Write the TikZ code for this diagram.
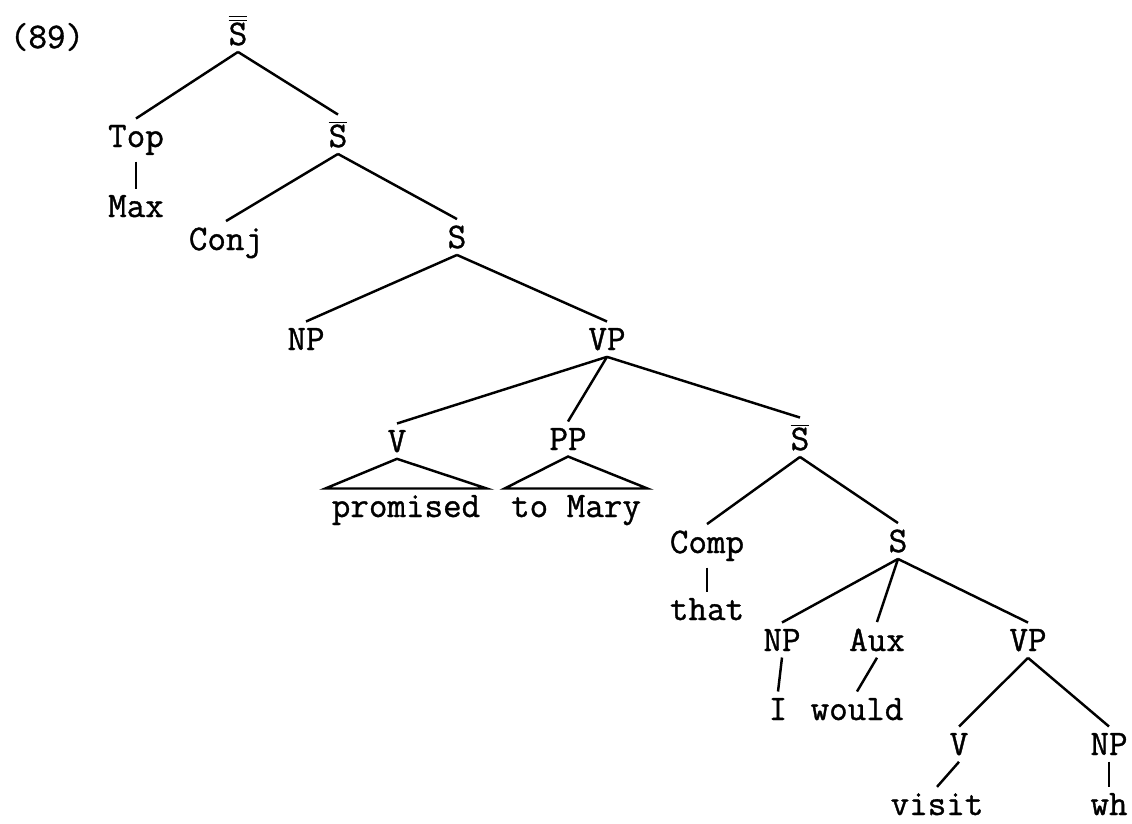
\documentclass[tikz,border=0pt]{standalone}
\usepackage{fontspec}
\setmonofont[FakeBold=1]{Latin Modern Mono}
\newcommand{\barS}{$\overline{\mbox{S}}$}
\newcommand{\dbarS}{$\overline{\overline{\mbox{S}}}$}

\begin{document}
\begin{tikzpicture}[x=0.02cm, y=-0.02cm, line width=1.4pt,
  lbl/.style={anchor=base, font=\ttfamily\fontsize{20.5}{24}\selectfont, inner sep=3pt}]
\useasboundingbox (0,0) rectangle (1132,823);

\node[lbl] (num) at (47,48) {(89)};
\node[lbl] (sbb) at (238,45) {\dbarS};
\node[lbl] (top) at (136,147) {Top};
\node[lbl] (max) at (136,217) {Max};
\node[lbl] (sb1) at (338,147) {\barS};
\node[lbl] (conj) at (226,250) {Conj};
\node[lbl] (s1) at (457,248) {S};
\node[lbl] (np1) at (306,350) {NP};
\node[lbl] (vp1) at (607,350) {VP};
\node[lbl] (v1) at (397,452) {V};
\node[lbl] (pp) at (568,450) {PP};
\node[lbl] (prom) at (406,517) {promised};
\node[lbl] (mary) at (576,517) {to Mary};
\node[lbl] (sb2) at (800,450) {\barS};
\node[lbl] (comp) at (707,553) {Comp};
\node[lbl] (that) at (707,620) {that};
\node[lbl] (s2) at (898,552) {S};
\node[lbl] (np2) at (782,651) {NP};
\node[lbl] (aux) at (877,651) {Aux};
\node[lbl] (vp2) at (1028,651) {VP};
\node[lbl] (i) at (778,720) {I};
\node[lbl] (would) at (857,720) {would};
\node[lbl] (v2) at (959,755) {V};
\node[lbl] (np3) at (1109,755) {NP};
\node[lbl] (visit) at (937,815) {visit};
\node[lbl] (wh) at (1109,815) {wh};

\draw (sbb.south) -- (top.north);
\draw (sbb.south) -- (sb1.north);
\draw (top.south) -- (max.north);
\draw (sb1.south) -- (conj.north);
\draw (sb1.south) -- (s1.north);
\draw (s1.south) -- (np1.north);
\draw (s1.south) -- (vp1.north);
\draw (vp1.south) -- (v1.north);
\draw (vp1.south) -- (pp.north);
\draw (vp1.south) -- (sb2.north);

% triangles
\draw (v1.south) -- (prom.north west) -- (prom.north east) -- cycle;
\draw (pp.south) -- (mary.north west) -- (mary.north east) -- cycle;

\draw (sb2.south) -- (comp.north);
\draw (sb2.south) -- (s2.north);
\draw (comp.south) -- (that.north);
\draw (s2.south) -- (np2.north);
\draw (s2.south) -- (aux.north);
\draw (s2.south) -- (vp2.north);
\draw (np2.south) -- (i.north);
\draw (aux.south) -- (would.north);
\draw (vp2.south) -- (v2.north);
\draw (vp2.south) -- (np3.north);
\draw (v2.south) -- (visit.north);
\draw (np3.south) -- (wh.north);
\end{tikzpicture}
\end{document}
